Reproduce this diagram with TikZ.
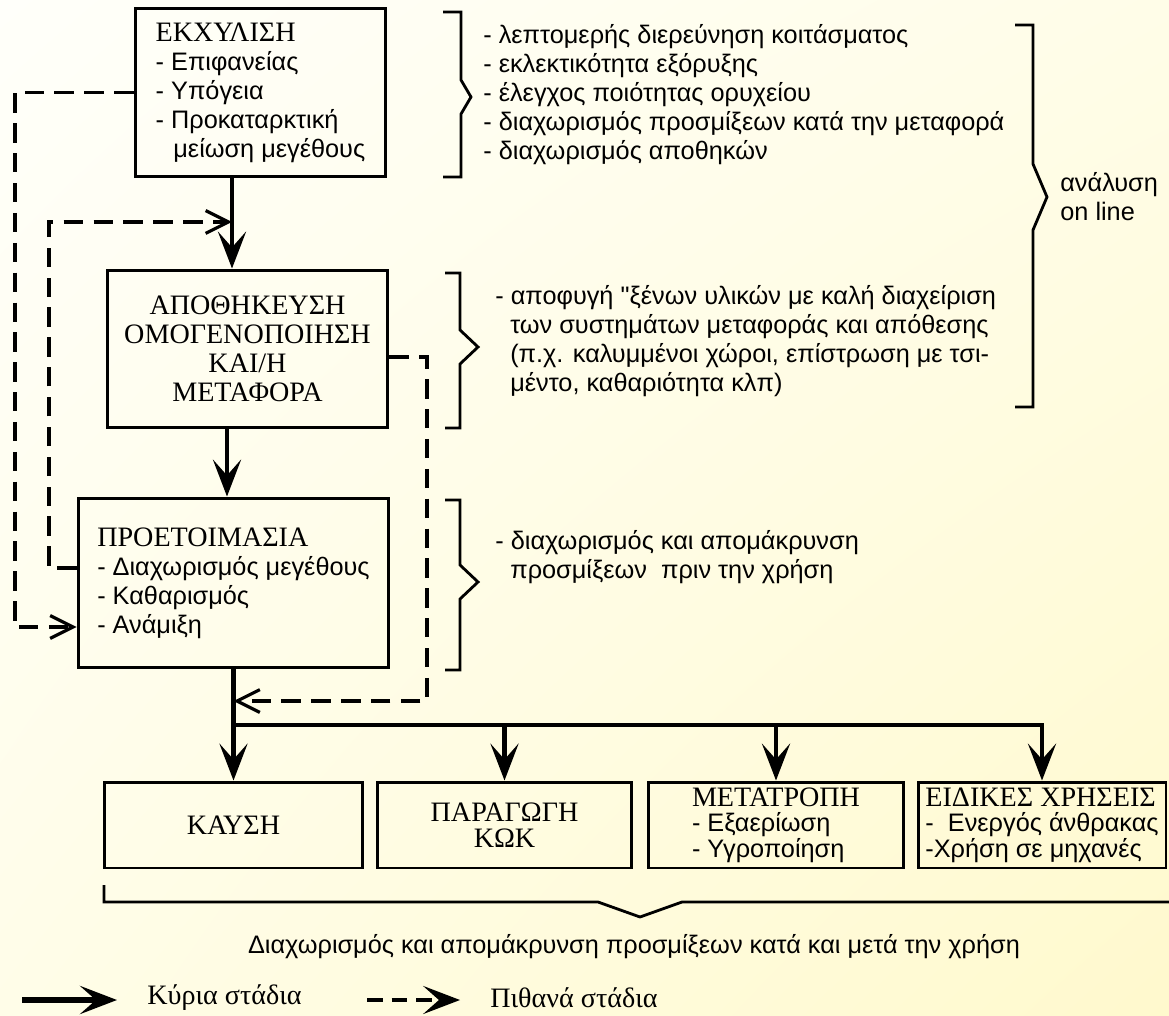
\documentclass[tikz,border=0pt]{standalone}
\usepackage{fontspec}
\setmainfont{Liberation Serif}
\newfontfamily\notefont{Liberation Sans}[Scale=0.9]
\usetikzlibrary{arrows.meta, shadings}

\definecolor{paperlight}{RGB}{255,255,250}
\definecolor{papermid}{RGB}{255,253,232}
\definecolor{paperdark}{RGB}{255,249,205}

\tikzstyle{stage} = [draw, line width=1.7pt, inner sep=0pt, align=left, font=\fontsize{16}{16.5}\selectfont]
\tikzstyle{note} = [inner sep=0pt, anchor=west, align=left, font=\notefont\fontsize{16}{16.5}\selectfont]
\tikzstyle{key} = [inner sep=0pt, anchor=west, font=\fontsize{16}{16.5}\selectfont]
\tikzstyle{main edge} = [draw, line width=2.6pt, -{Stealth[length=21pt,width=16pt,inset=9pt]}]
\tikzstyle{maybe edge} = [draw, line width=1.8pt, dash pattern=on 11pt off 6pt, -{Straight Barb[length=13pt,width=13pt]}]
\tikzstyle{bracket} = [draw, line width=1.6pt]

\def\brackets{443/461/12/177/97/10/17, 445/460/273/428/347/18/17, 445/460/500/670/582/18/17, 1015/1033/25/407/197/14/33}
\def\forks{kok, convert}

\begin{document}
\begin{tikzpicture}[x=0.02cm, y=-0.02cm]
  \useasboundingbox (0,0) rectangle (1169,1016);
  \shade[upper left=paperlight, upper right=papermid, lower left=papermid, lower right=paperdark] (0,0) rectangle (1169,1016);

  % The stages of the chain
  \node[stage, minimum width=5.02cm, minimum height=3.38cm] (extract) at (260.5,92.5) {ΕΚΧΥΛΙΣΗ\\
    {\notefont - Επιφανείας}\\
    {\notefont - Υπόγεια}\\
    {\notefont - Προκαταρκτική}\\
    {\notefont \hspace*{0.7em}μείωση μεγέθους}};
  \node[stage, align=center, minimum width=5.62cm, minimum height=3.16cm] (store) at (247.5,349) {ΑΠΟΘΗΚΕΥΣΗ\\ ΟΜΟΓΕΝΟΠΟΙΗΣΗ\\ ΚΑΙ/Η\\ ΜΕΤΑΦΟΡΑ};
  \node[stage, minimum width=6.22cm, minimum height=3.40cm] (prep) at (233.5,583) {ΠΡΟΕΤΟΙΜΑΣΙΑ\\
    {\notefont - Διαχωρισμός μεγέθους}\\
    {\notefont - Καθαρισμός}\\
    {\notefont - Ανάμιξη}};

  % The uses
  \node[stage, align=center, minimum width=5.18cm, minimum height=1.72cm] (kaysi) at (233.5,825) {ΚΑΥΣΗ};
  \node[stage, align=center, minimum width=5.10cm, minimum height=1.72cm] (kok) at (504.5,825) {ΠΑΡΑΓΩΓΗ\\[-2pt] ΚΩΚ};
  \node[stage, minimum width=5.12cm, minimum height=1.72cm] (convert) at (776,825) {ΜΕΤΑΤΡΟΠΗ\\[-2pt]
    {\notefont - Εξαερίωση}\\[-2pt]
    {\notefont - Υγροποίηση}};
  \node[stage, minimum width=4.96cm, minimum height=1.72cm] (special) at (1042,825) {ΕΙΔΙΚΕΣ ΧΡΗΣΕΙΣ\\[-2pt]
    {\notefont -\ \ Ενεργός άνθρακας}\\[-2pt]
    {\notefont -Χρήση σε μηχανές}};

  % Notes beside the stages
  \node[note] (early) at (483,95) {- λεπτομερής διερεύνηση κοιτάσματος\\
    - εκλεκτικότητα εξόρυξης\\
    - έλεγχος ποιότητας ορυχείου\\
    - διαχωρισμός προσμίξεων κατά την μεταφορά\\
    - διαχωρισμός αποθηκών};
  \node[note] (handling) at (495,341) {- αποφυγή "ξένων υλικών με καλή διαχείριση\\
    \hspace*{8.5pt}των συστημάτων μεταφοράς και απόθεσης\\
    \hspace*{8.5pt}(π.χ. καλυμμένοι χώροι, επίστρωση με τσι-\\
    \hspace*{8.5pt}μέντο, καθαριότητα κλπ)};
  \node[note] (before) at (495,557) {- διαχωρισμός και απομάκρυνση\\
    \hspace*{8.5pt}προσμίξεων\ \ πριν την χρήση};
  \node[note] (online) at (1060,197) {ανάλυση\\ on line};
  \node[note, anchor=center] (after) at (634,947) {Διαχωρισμός και απομάκρυνση προσμίξεων κατά και μετά την χρήση};

  % The brackets
  \foreach \xa/\xb/\yt/\yb/\ym/\dx/\dy in \brackets
    \draw[bracket] (\xa,\yt) -- (\xb,\yt) -- (\xb,\ym-\dy) -- (\xb+\dx,\ym) -- (\xb,\ym+\dy) -- (\xb,\yb) -- (\xa,\yb);
  \draw[bracket] (104,885) -- (104,902) -- (598,902) -- (640,917) -- (682,902) -- (1169,902);

  % Main stages
  \coordinate (colA) at (232,0);
  \coordinate (colB) at (227,0);
  \coordinate (fork) at (0,725);
  \draw[main edge] (extract.south -| colA) -- (store.north -| colA);
  \draw[main edge] (store.south -| colB) -- (prep.north -| colB);
  \draw[main edge] (prep.south) -- (kaysi.north);
  \draw[main edge] (prep.south |- fork) -| (special.north);
  \foreach \dest in \forks
    \draw[main edge] (\dest.north |- fork) -- (\dest.north);

  % Possible stages
  \coordinate (outer) at (15,0);
  \coordinate (inner) at (49,0);
  \coordinate (sidecol) at (427,0);
  \coordinate (rejoinrow) at (0,222);
  \coordinate (sizerow) at (0,568);
  \coordinate (mixrow) at (0,627);
  \coordinate (storerow) at (0,357);
  \coordinate (backrow) at (0,701);
  \draw[maybe edge] (extract.west) -- (extract.west -| outer) -- (outer |- mixrow) -- (prep.west |- mixrow);
  \draw[maybe edge] (prep.west |- sizerow) -- (inner |- sizerow) -- (inner |- rejoinrow) -- (colA |- rejoinrow);
  \draw[maybe edge] (store.east |- storerow) -- (sidecol |- storerow) -- (sidecol |- backrow) -- (prep.south |- backrow);

  % Legend
  \node[key] (mainkey) at (147,998) {Κύρια στάδια};
  \node[key] (maybekey) at (490,998) {Πιθανά στάδια};
  \coordinate (mainstart) at (22,1000);
  \coordinate (maybestart) at (367,1000);
  \draw[main edge, line width=3pt] (mainstart) -- ([xshift=-0.6cm]mainkey.west |- mainstart);
  \draw[main edge, line width=1.8pt, dash pattern=on 9pt off 5pt] (maybestart) -- ([xshift=-0.6cm]maybekey.west |- maybestart);
\end{tikzpicture}
\end{document}
